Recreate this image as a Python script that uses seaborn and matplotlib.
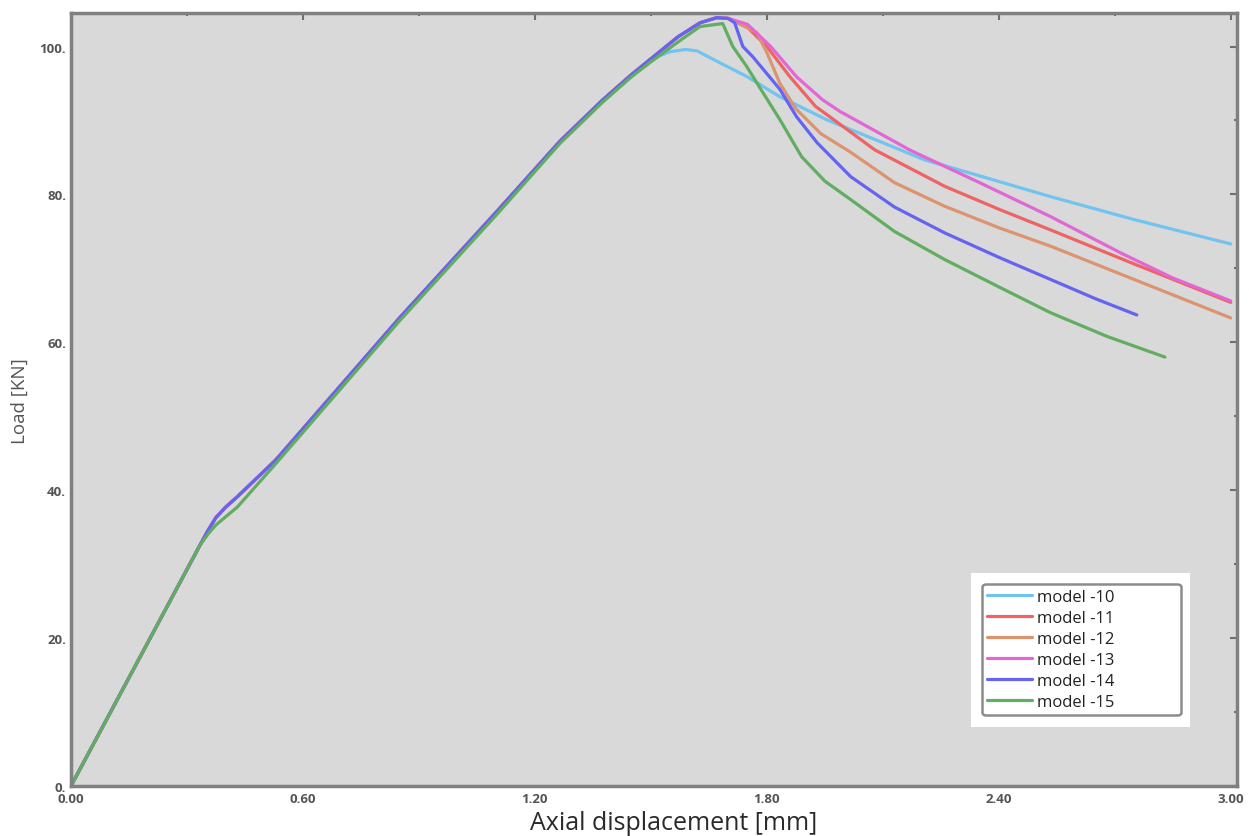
import numpy as np
import pandas as pd
import matplotlib
matplotlib.use("Agg")
import matplotlib.pyplot as plt
from matplotlib.patches import Rectangle
from matplotlib.ticker import MultipleLocator, FormatStrFormatter
import seaborn as sns

# ---------------- data ----------------
models = ["model -10", "model -11", "model -12", "model -13", "model -14", "model -15"]
colors = ["#72c3f0", "#ee6363", "#dc9470", "#e267d4", "#6464f0", "#62ad62"]

# shared rising branch
rise_x = [0.0, 0.333, 0.355, 0.375, 0.40, 0.43, 0.53, 0.85, 1.10, 1.265, 1.376, 1.45]
rise_y = [0.0, 32.5, 34.6, 36.3, 37.7, 39.1, 44.1, 63.3, 77.6, 87.2, 92.8, 96.2]
rise15_y = [0.0, 32.5, 34.1, 35.3, 36.4, 37.7, 43.6, 62.9, 77.2, 86.9, 92.5, 95.9]

peak_x = [1.497, 1.57, 1.627, 1.67]
peak_y = [98.2, 101.3, 103.2, 103.9]

m10_x = [1.50, 1.55, 1.59, 1.62, 1.66, 1.75, 1.834, 1.955, 2.207, 2.534, 2.75, 3.0]
m10_y = [98.3, 99.3, 99.6, 99.4, 98.3, 95.9, 93.2, 90.1, 84.7, 79.7, 76.6, 73.3]

m11_x = [1.70, 1.748, 1.80, 1.86, 1.926, 1.963, 2.08, 2.26, 2.40, 2.534, 2.75, 3.0]
m11_y = [103.8, 102.7, 100.0, 95.9, 91.9, 90.5, 86.0, 81.1, 78.0, 75.2, 70.6, 65.4]

m12_x = [1.70, 1.774, 1.80, 1.834, 1.875, 1.94, 2.017, 2.13, 2.26, 2.40, 2.534, 2.75, 3.0]
m12_y = [103.8, 101.9, 99.2, 95.0, 91.6, 88.2, 85.7, 81.6, 78.4, 75.5, 73.0, 68.5, 63.3]

m13_x = [1.70, 1.75, 1.81, 1.877, 1.944, 1.99, 2.17, 2.35, 2.534, 2.715, 2.85, 3.0]
m13_y = [103.8, 103.0, 100.0, 95.9, 92.8, 91.2, 86.0, 81.6, 77.0, 72.1, 68.7, 65.6]

m14_x = [1.70, 1.717, 1.738, 1.764, 1.834, 1.877, 1.93, 2.017, 2.13, 2.26, 2.40, 2.534, 2.65, 2.757]
m14_y = [103.8, 103.2, 100.0, 98.6, 94.2, 90.5, 87.0, 82.4, 78.3, 74.8, 71.5, 68.5, 65.9, 63.7]

m15_peak_x = [1.497, 1.57, 1.627, 1.686]
m15_peak_y = [97.8, 100.6, 102.7, 103.1]
m15_x = [1.712, 1.748, 1.78, 1.834, 1.89, 1.95, 2.017, 2.13, 2.26, 2.40, 2.534, 2.68, 2.83]
m15_y = [100.0, 97.3, 94.6, 90.1, 85.1, 81.8, 79.3, 75.0, 71.2, 67.5, 64.0, 60.8, 58.0]

xticks = [0.0, 0.6, 1.2, 1.8, 2.4, 3.0]
yticks = [0, 20, 40, 60, 80, 100]

# ---------------- build long table ----------------
series = {
    models[0]: (rise_x + m10_x, rise_y + m10_y),
    models[1]: (rise_x + peak_x + m11_x, rise_y + peak_y + m11_y),
    models[2]: (rise_x + peak_x + m12_x, rise_y + peak_y + m12_y),
    models[3]: (rise_x + peak_x + m13_x, rise_y + peak_y + m13_y),
    models[4]: (rise_x + peak_x + m14_x, rise_y + peak_y + m14_y),
    models[5]: (rise_x + m15_peak_x + m15_x, rise15_y + m15_peak_y + m15_y),
}
frames = []
for name, (xs, ys) in series.items():
    frames.append(pd.DataFrame({"disp": xs, "load": ys, "model": name}))
df = pd.concat(frames, ignore_index=True)

# ---------------- plot ----------------
sns.set_style("white", {"axes.facecolor": "#d9d9d9"})
plt.rcParams["font.family"] = ["Open Sans", "DejaVu Sans"]

fig = plt.figure(figsize=(12.49, 8.37), dpi=100)
ax = fig.add_axes([0.0568, 0.0597, 0.9332, 0.9233])

sns.lineplot(data=df, x="disp", y="load", hue="model", hue_order=models,
             palette=dict(zip(models, colors)), estimator=None, sort=False,
             units="model", linewidth=2.3, ax=ax, legend=True)

ax.set_xlim(0, 3.015)
ax.set_ylim(0, 104.5)
ax.set_xticks(xticks)
ax.set_yticks(yticks)
ax.xaxis.set_major_formatter(FormatStrFormatter("%.2f"))
ax.yaxis.set_major_formatter(FormatStrFormatter("%d."))
ax.xaxis.set_minor_locator(MultipleLocator(0.3))
ax.yaxis.set_minor_locator(MultipleLocator(10))
ax.tick_params(which="both", direction="in", top=True, right=True,
               colors="#6f6f6f", labelcolor="#555555", labelsize=9.5)
ax.tick_params(which="major", length=5, width=1.5)
ax.tick_params(which="minor", length=2, width=1.5)
ax.tick_params(axis="x", which="major", pad=4)
for lab in ax.get_xticklabels() + ax.get_yticklabels():
    lab.set_fontweight("bold")

for sp in ax.spines.values():
    sp.set_color("#808080")
    sp.set_linewidth(2.5)

ax.set_xlabel("Axial displacement [mm]", fontsize=18, color="#2a2a2a")
ax.xaxis.set_label_coords(0.517, -0.031)
ax.set_ylabel("Load [KN]", fontsize=13.5, color="#555555")
ax.yaxis.set_label_coords(-0.036, 0.50)

# white panel behind legend
ax.add_patch(Rectangle((0.772, 0.0763), 0.188, 0.1993, transform=ax.transAxes,
                       facecolor="white", edgecolor="none", zorder=4))
leg = ax.legend(loc="lower left", bbox_to_anchor=(0.782, 0.0918, 0.170, 0.1708),
                mode="expand", frameon=True, fancybox=True, fontsize=12,
                handlelength=2.7, handletextpad=0.3, labelspacing=0.3,
                borderpad=0.3, borderaxespad=0.0)
leg.get_frame().set_edgecolor("#707070")
leg.get_frame().set_linewidth(1.8)
leg.get_frame().set_facecolor("white")
leg.set_zorder(5)
for t in leg.get_texts():
    t.set_color("#222222")

fig.savefig("out.png", dpi=100)
